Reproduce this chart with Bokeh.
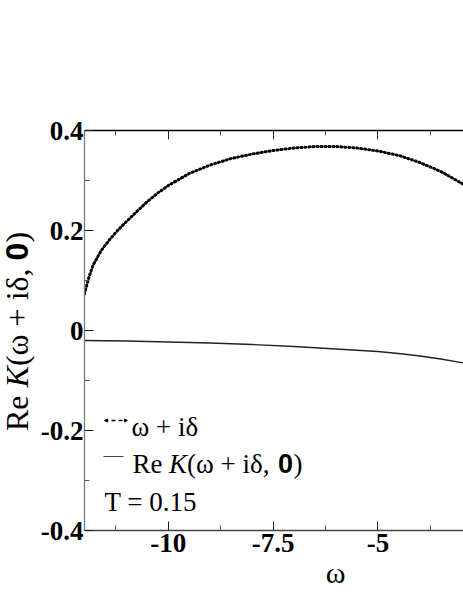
import math
from bokeh.plotting import figure
from bokeh.layouts import row
from bokeh.models import (Range1d, LinearAxis, FixedTicker, Label, Arrow, Div,
                          CustomJSTickFormatter, NormalHead)
from bokeh.embed import file_html
from bokeh.resources import INLINE

# ---------------- data ----------------
omega_dotted = [-12.0, -11.9, -11.8, -11.6, -11.4, -11.2, -11.0, -10.75, -10.5, -10.25,
                -10.0, -9.5, -9.0, -8.5, -8.0, -7.5, -7.0, -6.5, -6.0, -5.5,
                -5.0, -4.5, -4.0, -3.5, -2.95]
re_dotted = [0.073, 0.105, 0.130, 0.160, 0.182, 0.201, 0.218, 0.238, 0.258, 0.275,
             0.290, 0.314, 0.331, 0.344, 0.353, 0.360, 0.365, 0.368, 0.368, 0.365,
             0.359, 0.350, 0.336, 0.318, 0.292]

omega_solid = [-12.0, -11.0, -10.0, -9.0, -8.0, -7.0, -6.0, -5.0, -4.4, -4.0, -3.5, -2.95]
re_solid = [-0.020, -0.021, -0.023, -0.025, -0.028, -0.032, -0.037, -0.042,
            -0.047, -0.051, -0.057, -0.065]

x_major = [-10, -7.5, -5]
x_major_labels = ["-10", "-7.5", "-5"]
x_minor = [-11.25, -8.75, -6.25, -3.75]
y_major = [-0.4, -0.2, 0.0, 0.2, 0.4]
y_major_labels = ["-0.4", "-0.2", "0", "0.2", "0.4"]
y_minor = [-0.3, -0.1, 0.1, 0.3]

legend_dotted = "ω + iδ"
temperature_text = "T = 0.15"
x_label = "ω"

# ---------------- layout helpers (page pixels) ----------------
PAGE_W, PAGE_H = 463, 599
YLAB_W = 34
FRAME_LEFT, FRAME_TOP, FRAME_BOTTOM = 84.0, 130.0, 530.0
X_START = -12.0
PX_PER_X = 41.92
Y_TOP, Y_BOTTOM = 0.4, -0.4
PX_PER_Y = (FRAME_BOTTOM - FRAME_TOP) / (Y_TOP - Y_BOTTOM)
MAIN_W = PAGE_W - YLAB_W
ML = int(FRAME_LEFT) - YLAB_W
MT = int(FRAME_TOP)
MB = PAGE_H - int(FRAME_BOTTOM)
X_END = X_START + (MAIN_W - ML) / PX_PER_X


def dx(px):
    return X_START + (px - FRAME_LEFT) / PX_PER_X


def dy(py):
    return Y_TOP - (py - FRAME_TOP) / PX_PER_Y


SERIF = "Liberation Serif"
SANS = "Liberation Sans"

# ---------------- main plot ----------------
p = figure(width=MAIN_W, height=PAGE_H, output_backend="svg", toolbar_location=None,
           x_range=Range1d(X_START, X_END), y_range=Range1d(Y_BOTTOM, Y_TOP),
           x_axis_location=None, y_axis_location=None,
           min_border_left=ML, min_border_top=MT, min_border_bottom=MB,
           min_border_right=0)
p.outline_line_color = None
p.grid.visible = False

xt = FixedTicker(ticks=x_major, minor_ticks=x_minor)
yt = FixedTicker(ticks=y_major, minor_ticks=y_minor)


def style_axis(ax, line_color):
    ax.axis_line_color = line_color
    ax.axis_line_width = 1.3
    ax.major_tick_in = 9
    ax.major_tick_out = 0
    ax.minor_tick_in = 5
    ax.minor_tick_out = 0
    ax.major_tick_line_color = "#222222"
    ax.minor_tick_line_color = "#555555"
    ax.major_label_text_font = SERIF
    ax.major_label_text_font_style = "bold"
    ax.major_label_text_font_size = "27px"
    ax.major_label_text_color = "black"


xb = LinearAxis(ticker=xt, major_label_overrides=dict(zip(x_major, x_major_labels)))
style_axis(xb, "#444444")
xb.major_label_standoff = 3
p.add_layout(xb, "below")

# x-axis title "ω", placed below the tick labels at the reference's position
XLAB_POS = dx(335)
xlab_axis = LinearAxis(ticker=FixedTicker(ticks=[XLAB_POS], minor_ticks=[]),
                       major_label_overrides={XLAB_POS: x_label})
xlab_axis.axis_line_color = None
xlab_axis.major_tick_line_color = None
xlab_axis.minor_tick_line_color = None
xlab_axis.major_tick_in = 0
xlab_axis.major_tick_out = 0
xlab_axis.major_label_standoff = 1
xlab_axis.major_label_text_font = SERIF
xlab_axis.major_label_text_font_size = "30px"
xlab_axis.major_label_text_color = "black"
p.add_layout(xlab_axis, "below")

xa = LinearAxis(ticker=xt, formatter=CustomJSTickFormatter(code="return ''"))
style_axis(xa, "black")
xa.major_label_text_font_size = "1px"
xa.major_label_standoff = 0
p.add_layout(xa, "above")

yl = LinearAxis(ticker=yt, major_label_overrides=dict(zip(y_major, y_major_labels)))
style_axis(yl, "#7a7a7a")
yl.major_label_standoff = 1
p.add_layout(yl, "left")

p.line(omega_dotted, re_dotted, line_color="black", line_width=3,
       line_dash="1 3", line_cap="round", line_join="round")
p.line(omega_solid, re_solid, line_color="#222222", line_width=1.3)

# legend (manual, inside the frame)
p.add_layout(Arrow(x_start=dx(104), y_start=dy(420), x_end=dx(127), y_end=dy(420),
                   start=NormalHead(size=3, line_color="black", fill_color="black"),
                   end=NormalHead(size=3, line_color="black", fill_color="black"),
                   line_color="black", line_width=1.3, line_dash="4 3"))
p.add_layout(Label(x=dx(131), y=dy(426), text=legend_dotted, text_font=SERIF,
                   text_font_size="27px", text_align="left",
                   text_baseline="alphabetic", text_color="black"))

p.add_layout(Arrow(x_start=dx(103), y_start=dy(456), x_end=dx(123), y_end=dy(456),
                   end=None, line_color="#444444", line_width=1.1))
leg2 = [
    ("Re", 132, SERIF, "normal"),
    ("K", 168.5, SERIF, "italic"),
    ("(ω + iδ,", 186.5, SERIF, "normal"),
    ("0", 277.5, SANS, "bold"),
    (")", 293, SERIF, "normal"),
]
for txt, px, font, style in leg2:
    p.add_layout(Label(x=dx(px), y=dy(463), text=txt, text_font=font,
                       text_font_style=style, text_font_size="27px",
                       text_align="left", text_baseline="alphabetic",
                       text_color="black"))

p.add_layout(Label(x=dx(104), y=dy(501), text=temperature_text, text_font=SERIF,
                   text_font_size="27px", text_align="left",
                   text_baseline="alphabetic", text_color="black"))

# ---------------- y-axis title (mixed styles, rotated, as real text) ----------------
ylab_html = (
    '<div style="transform-origin:0 0; transform:translate(1px,431px) rotate(-90deg);'
    ' white-space:nowrap; width:max-content; font-family:\'Liberation Serif\';'
    ' font-size:32px; line-height:32px; color:black;">'
    'Re <i>K</i>(ω + iδ, '
    '<b style="font-family:\'Liberation Sans\';">0</b>)</div>'
)
ylab = Div(text=ylab_html, width=YLAB_W, height=PAGE_H, margin=0)

layout = row(ylab, p)
open("out.html", "w").write(file_html(layout, INLINE))
